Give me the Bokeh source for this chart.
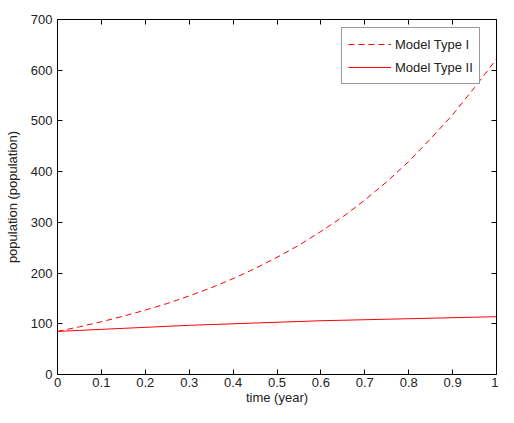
from bokeh.plotting import figure
from bokeh.models import LinearAxis, Range1d, Legend, LegendItem, FixedTicker
from bokeh.embed import file_html
from bokeh.resources import INLINE

# data
time_year = [0.0, 0.05, 0.1, 0.15, 0.2, 0.25, 0.3, 0.35, 0.4, 0.45, 0.5,
             0.55, 0.6, 0.65, 0.7, 0.75, 0.8, 0.85, 0.9, 0.95, 1.0]
model_type_1 = [85, 94, 104, 115, 127, 140, 155, 171, 189, 209, 231,
                255, 282, 311, 344, 380, 420, 465, 512, 566, 622]
model_type_2 = [85, 87, 89, 91, 93, 95, 97, 98.5, 100, 101.5, 103,
                104.5, 106, 107, 108, 109, 110, 111, 112, 113, 114]
x_ticks = [0, 0.1, 0.2, 0.3, 0.4, 0.5, 0.6, 0.7, 0.8, 0.9, 1]
y_ticks = [0, 100, 200, 300, 400, 500, 600, 700]
series_names = ["Model Type I", "Model Type II"]

FONT = "Liberation Sans"
TXT = "#222222"

p = figure(width=498, height=407, output_backend="svg", toolbar_location=None,
           x_range=Range1d(0, 1), y_range=Range1d(0, 700),
           min_border_left=57, min_border_right=2, min_border_top=19, min_border_bottom=30,
           background_fill_color="white", border_fill_color="white")
p.xgrid.visible = False
p.ygrid.visible = False
p.outline_line_color = "black"
p.outline_line_width = 1

def style(ax):
    ax.major_tick_in = 5
    ax.major_tick_out = 0
    ax.minor_tick_line_color = None
    ax.axis_line_color = "black"
    ax.major_tick_line_color = "black"
    ax.major_label_text_font = FONT
    ax.major_label_text_font_size = "13px"
    ax.major_label_text_color = TXT
    ax.axis_label_text_font = FONT
    ax.axis_label_text_font_size = "13px"
    ax.axis_label_text_font_style = "normal"
    ax.axis_label_text_color = TXT

xa = p.xaxis[0]
ya = p.yaxis[0]
xa.ticker = FixedTicker(ticks=x_ticks)
ya.ticker = FixedTicker(ticks=y_ticks)
xa.major_label_overrides = {1: "1", 0: "0"}
style(xa)
style(ya)
xa.axis_label = "time (year)"
ya.axis_label = "population (population)"
xa.major_label_standoff = 3
xa.axis_label_standoff = 0
ya.major_label_standoff = 5
ya.axis_label_standoff = 8

top = LinearAxis(ticker=FixedTicker(ticks=x_ticks))
style(top)
top.major_label_overrides = {t: "" for t in x_ticks}
top.major_label_standoff = 0
right = LinearAxis(ticker=FixedTicker(ticks=y_ticks))
style(right)
right.major_label_overrides = {t: "" for t in y_ticks}
right.major_label_standoff = 0
p.add_layout(top, "above")
p.add_layout(right, "right")

r1 = p.line(time_year, model_type_1, line_color="#ff0000", line_width=1, line_dash="6 4")
r2 = p.line(time_year, model_type_2, line_color="#ff0000", line_width=1)

legend = Legend(items=[LegendItem(label=series_names[0], renderers=[r1]),
                       LegendItem(label=series_names[1], renderers=[r2])],
                location=(284, 290))
legend.margin = 0
legend.padding = 6
legend.spacing = 3
legend.glyph_width = 43
legend.glyph_height = 20
legend.label_height = 20
legend.label_standoff = 4
legend.label_text_font = FONT
legend.label_text_font_size = "13px"
legend.label_text_color = TXT
legend.border_line_color = "#333333"
legend.border_line_width = 1
legend.background_fill_color = "white"
legend.background_fill_alpha = 1
p.add_layout(legend, "center")

open("out.html", "w").write(file_html(p, INLINE))
